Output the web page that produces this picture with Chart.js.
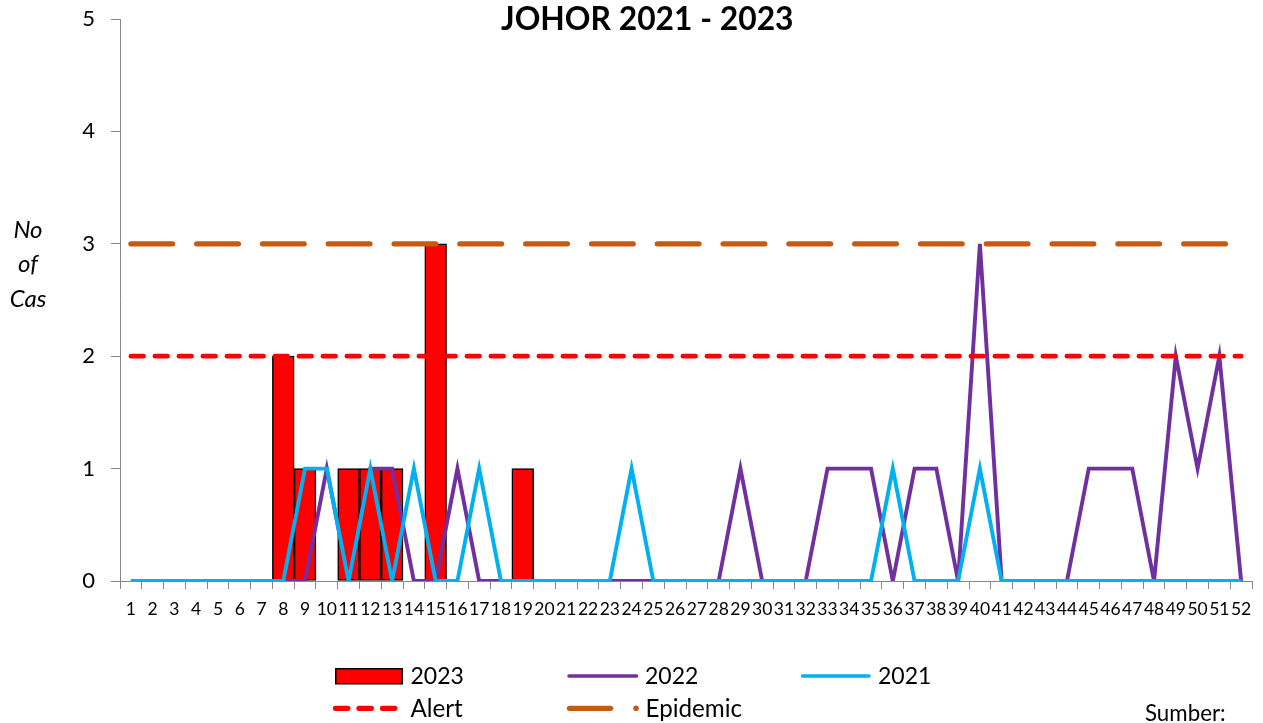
<!DOCTYPE html>
<html>
<head>
<meta charset="utf-8">
<script src="https://cdn.jsdelivr.net/npm/chart.js@4.4.1/dist/chart.umd.min.js"></script>
<style>
  html, body { margin: 0; padding: 0; background: #fff; }
  #wrap { position: relative; width: 1263px; height: 723px; overflow: hidden; font-family: Lato, "Open Sans", sans-serif; color: #000; }
  #c { position: absolute; left: 0; top: 0; }
  .t { position: absolute; white-space: nowrap; line-height: 1.2; }
  #legendSvg { position: absolute; left: 0; top: 0; }
</style>
</head>
<body>
<div id="wrap">
  <canvas id="c" width="1263" height="723"></canvas>
  <div class="t" id="title" style="left:501px; top:-1px; font-size:31.8px; font-weight:bold;">JOHOR 2021 - 2023</div>
  <div class="t" style="left:0; width:56px; text-align:center; top:215px; font-size:24px; font-style:italic;">No</div>
  <div class="t" style="left:0; width:56px; text-align:center; top:249px; font-size:24px; font-style:italic;">of</div>
  <div class="t" style="left:0; width:56px; text-align:center; top:284px; font-size:24px; font-style:italic;">Cas</div>
  <svg id="legendSvg" width="1263" height="723">
    <rect x="335.75" y="668.75" width="66.5" height="15" fill="#FF0000" stroke="#000" stroke-width="1.5"/>
    <line x1="569" y1="676" x2="636.5" y2="676" stroke="#7030A0" stroke-width="3.5" stroke-linecap="round"/>
    <line x1="802.5" y1="676" x2="869" y2="676" stroke="#00B0F0" stroke-width="3.5" stroke-linecap="round"/>
    <line x1="335.5" y1="708.3" x2="400" y2="708.3" stroke="#FF0000" stroke-width="5.3" stroke-linecap="round" stroke-dasharray="12.3 11.2"/>
    <line x1="569.5" y1="708.3" x2="610.5" y2="708.3" stroke="#C55A11" stroke-width="5.3" stroke-linecap="round"/>
    <circle cx="636" cy="708.3" r="2.8" fill="#C55A11"/>
  </svg>
  <div class="t" style="left:410.5px; top:661.5px; font-size:23px;">2023</div>
  <div class="t" style="left:645px; top:661.5px; font-size:23px;">2022</div>
  <div class="t" style="left:878px; top:661.5px; font-size:23px;">2021</div>
  <div class="t" style="left:410.5px; top:692.5px; font-size:24.2px;">Alert</div>
  <div class="t" style="left:645.5px; top:692.5px; font-size:24.2px;">Epidemic</div>
  <div class="t" style="left:1145px; top:699.5px; font-size:22.3px;">Sumber:</div>
</div>
<script>
const weeks = ['1','2','3','4','5','6','7','8','9','10','11','12','13','14','15','16','17','18','19','20',
  '21','22','23','24','25','26','27','28','29','30','31','32','33','34','35','36','37','38','39','40',
  '41','42','43','44','45','46','47','48','49','50','51','52'];

const cases2023 = [0,0,0,0,0,0,0,2,1,0,1,1,1,0,3,0,0,0,1];

const cases2022 = [0,0,0,0,0,0,0,0,0,1, 0,1,1,0,0,1,0,0,0,0,
                   0,0,0,0,0,0,0,0,1,0, 0,0,1,1,1,0,1,1,0,3,
                   0,0,0,0,1,1,1,0,2,1, 2,0];

const cases2021 = [0,0,0,0,0,0,0,0,1,1, 0,1,0,1,0,0,1,0,0,0,
                   0,0,0,1,0,0,0,0,0,0, 0,0,0,0,0,1,0,0,0,1,
                   0,0,0,0,0,0,0,0,0,0, 0,0];

const alertLevel = [2,2,2,2,2,2,2,2,2,2, 2,2,2,2,2,2,2,2,2,2,
                    2,2,2,2,2,2,2,2,2,2, 2,2,2,2,2,2,2,2,2,2,
                    2,2,2,2,2,2,2,2,2,2, 2,2];

const epidemicLevel = [3,3,3,3,3,3,3,3,3,3, 3,3,3,3,3,3,3,3,3,3,
                       3,3,3,3,3,3,3,3,3,3, 3,3,3,3,3,3,3,3,3,3,
                       3,3,3,3,3,3,3,3,3,3, 3,3];

const yTicks = [0,1,2,3,4,5];

const axisGrey = '#868686';

new Chart(document.getElementById('c'), {
  type: 'bar',
  data: {
    labels: weeks,
    datasets: [
      { type: 'line', label: 'Epidemic', data: epidemicLevel, borderColor: '#C55A11', borderWidth: 5.3,
        borderDash: [41.7, 24.1], borderCapStyle: 'round', pointRadius: 0, fill: false, tension: 0, order: 0 },
      { type: 'line', label: 'Alert', data: alertLevel, borderColor: '#FF0000', borderWidth: 4.7,
        borderDash: [12.6, 11.4], borderCapStyle: 'round', pointRadius: 0, fill: false, tension: 0, order: 1 },
      { type: 'line', label: '2021', data: cases2021, borderColor: '#00B0F0', borderWidth: 3.9,
        pointRadius: 0, fill: false, tension: 0, borderJoinStyle: 'miter', order: 2 },
      { type: 'line', label: '2022', data: cases2022, borderColor: '#7030A0', borderWidth: 3.9,
        pointRadius: 0, fill: false, tension: 0, borderJoinStyle: 'miter', order: 3 },
      { type: 'bar', label: '2023', data: cases2023, backgroundColor: '#FF0000', borderColor: '#000000',
        borderWidth: 1.5, borderSkipped: false, barPercentage: 1, categoryPercentage: 1, order: 4 }
    ]
  },
  options: {
    responsive: false,
    maintainAspectRatio: false,
    animation: false,
    events: [],
    layout: { padding: { left: 0, right: 11, top: 19, bottom: 0 } },
    plugins: {
      legend: { display: false },
      title: { display: false },
      tooltip: { enabled: false }
    },
    scales: {
      x: {
        offset: true,
        grid: { display: true, drawOnChartArea: false, drawTicks: true, tickLength: 8, color: axisGrey, offset: true },
        border: { display: true, color: axisGrey, width: 1 },
        ticks: { autoSkip: false, maxRotation: 0, minRotation: 0, padding: 10, color: '#000',
                 font: { family: 'Lato', size: 17.5 } },
        afterFit: (s) => { s.height = 142; s.paddingLeft = 0; s.paddingRight = 0; }
      },
      y: {
        min: 0, max: 5,
        afterBuildTicks: (s) => { s.ticks = yTicks.map(v => ({ value: v })); },
        grid: { display: true, drawOnChartArea: false, drawTicks: true, tickLength: 9, color: axisGrey },
        border: { display: true, color: axisGrey, width: 1 },
        ticks: { padding: 16, color: '#000', font: { family: 'Lato', size: 22 } },
        afterFit: (s) => { s.width = 120; s.paddingTop = 0; s.paddingBottom = 0; }
      }
    }
  }
});
</script>
</body>
</html>
